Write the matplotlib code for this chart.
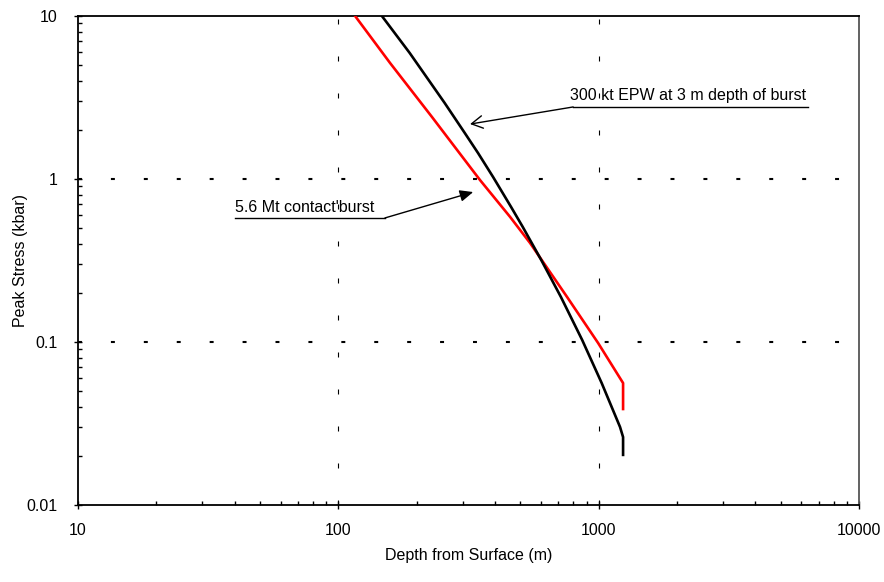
import matplotlib
matplotlib.use("Agg")
import matplotlib.pyplot as plt
from matplotlib.lines import Line2D
from matplotlib.ticker import LogLocator, FixedLocator, NullFormatter

plt.rcParams['font.family'] = ['Liberation Sans', 'DejaVu Sans']

# Data
red_depth = [116, 158, 229, 255, 350, 457, 545, 756, 995, 1241, 1241]
red_stress = [10, 5.15, 2.40, 1.915, 0.986, 0.585, 0.405, 0.189, 0.0986, 0.056, 0.0388]
black_depth = [147, 188, 256, 306, 344, 393, 461, 511, 602, 716, 864, 1027, 1208, 1241, 1241]
black_stress = [10, 5.93, 2.93, 1.915, 1.444, 1.029, 0.673, 0.508, 0.318, 0.189, 0.103, 0.056,
                0.0301, 0.0261, 0.0203]

x_ticks = [10, 100, 1000, 10000]
x_tick_labels = ['10', '100', '1000', '10000']
y_ticks = [0.01, 0.1, 1, 10]
y_tick_labels = ['0.01', '0.1', '1', '10']

label_300kt = '300 kt EPW at 3 m depth of burst'
label_56mt = "5.6 Mt contact'burst"

fig = plt.figure(figsize=(8.84, 5.82), dpi=100)
ax = fig.add_axes([78/884, 1-505/582, 781/884, 489/582])
ax.set_xscale('log')
ax.set_yscale('log')
ax.set_xlim(10, 10000)
ax.set_ylim(0.01, 10)

# grid lines
for yv in [0.1, 1]:
    ax.axhline(yv, color='black', lw=1.5, linestyle=(0, (1.9, 13.9)), zorder=1)
for xv in [100, 1000]:
    ax.axvline(xv, color='black', lw=0.8, linestyle=(0, (4.5, 28.8)), zorder=1)

ax.plot(red_depth, red_stress, color='#ff0000', lw=1.9, zorder=3)
ax.plot(black_depth, black_stress, color='black', lw=1.9, zorder=4)

ax.xaxis.set_major_locator(FixedLocator(x_ticks))
ax.set_xticklabels(x_tick_labels)
ax.yaxis.set_major_locator(FixedLocator(y_ticks))
ax.set_yticklabels(y_tick_labels)
ax.xaxis.set_minor_locator(LogLocator(base=10, subs=range(2, 10)))
ax.yaxis.set_minor_locator(LogLocator(base=10, subs=range(2, 10)))
ax.xaxis.set_minor_formatter(NullFormatter())
ax.yaxis.set_minor_formatter(NullFormatter())
ax.tick_params(which='major', direction='inout', length=6, width=1.0, labelsize=11.5)
ax.tick_params(which='minor', direction='in', length=3, width=1.0)
ax.tick_params(axis='x', which='major', pad=10)
ax.tick_params(axis='y', which='major', pad=12)
for s in ax.spines.values():
    s.set_linewidth(1.3)
ax.spines['right'].set_color('#555555')

ax.set_xlabel('Depth from Surface (m)', fontsize=11.5)
ax.set_ylabel('Peak Stress (kbar)', fontsize=11.5)
ax.xaxis.set_label_coords(0.5, (505-548)/489)
ax.yaxis.set_label_coords((28-78)/781, 0.5)

# annotation 1: 300 kt
ax.add_line(Line2D([0.634, 0.935], [0.814, 0.814], transform=ax.transAxes, color='black', lw=1.0))
ax.text(0.630, 0.822, label_300kt, transform=ax.transAxes, fontsize=11.5, ha='left', va='bottom')
ax.annotate('', xy=(0.502, 0.779), xycoords='axes fraction', xytext=(0.634, 0.814),
            textcoords='axes fraction',
            arrowprops=dict(arrowstyle='->,head_length=0.8,head_width=0.45', color='black', lw=1.0,
                            shrinkA=0, shrinkB=0))

# annotation 2: 5.6 Mt
ax.add_line(Line2D([0.201, 0.393], [0.587, 0.587], transform=ax.transAxes, color='black', lw=1.0))
ax.text(0.201, 0.594, label_56mt, transform=ax.transAxes, fontsize=11.5, ha='left', va='bottom')
ax.annotate('', xy=(0.506, 0.640), xycoords='axes fraction', xytext=(0.393, 0.587),
            textcoords='axes fraction',
            arrowprops=dict(arrowstyle='-|>,head_length=0.8,head_width=0.35', color='black', lw=1.0,
                            shrinkA=0, shrinkB=0))

fig.savefig('out.png', dpi=100)
